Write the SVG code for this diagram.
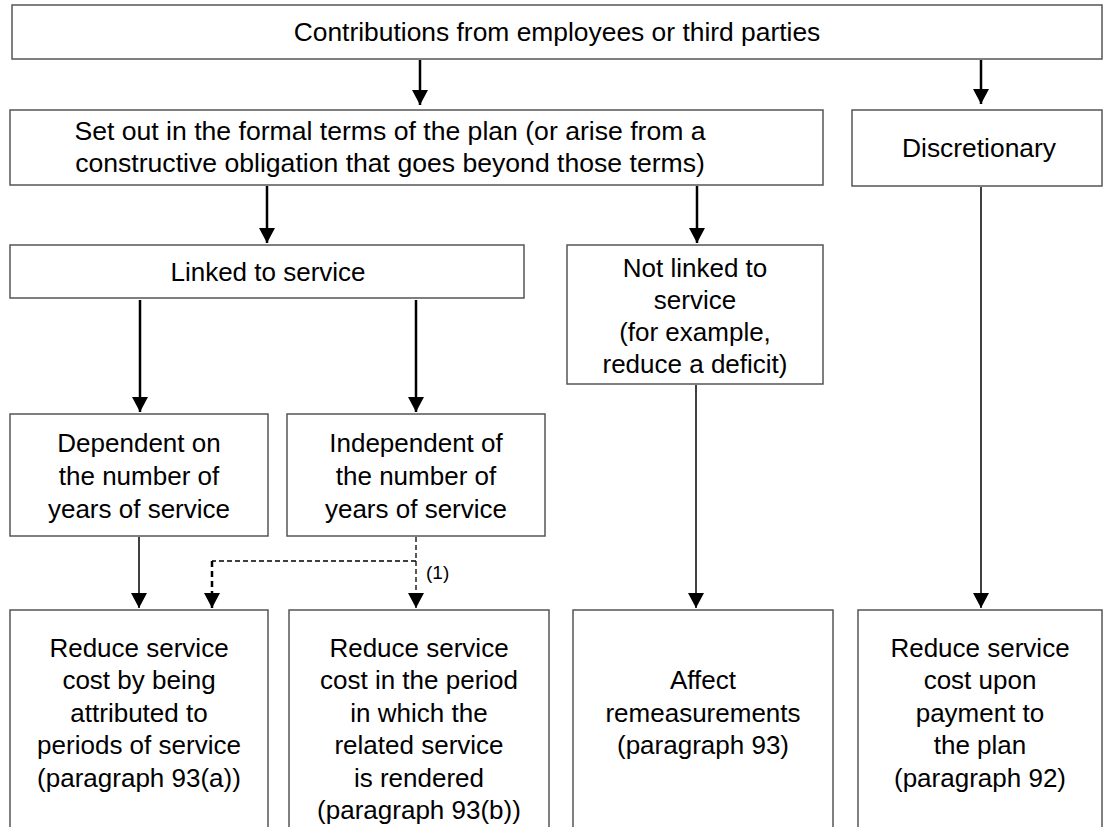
<svg xmlns="http://www.w3.org/2000/svg" width="1104" height="827" viewBox="0 0 1104 827">
<style>
.box{fill:#fff;stroke:#555;stroke-width:1.5}
.t{font-family:"Liberation Sans",Arial,sans-serif;font-size:26px;fill:#000;text-anchor:middle}
.s{font-family:"Liberation Sans",Arial,sans-serif;font-size:19px;fill:#000}
.a{stroke:#000;stroke-width:2.5;fill:none;marker-end:url(#ah)}
.al{stroke:#000;stroke-width:1.5;fill:none;marker-end:url(#ah)}
.d{stroke:#000;stroke-width:1.3;fill:none;stroke-dasharray:5 3}
.dt{stroke:#000;stroke-width:2.5;fill:none;stroke-dasharray:6 4}
</style>
<defs>
<marker id="ah" markerUnits="userSpaceOnUse" markerWidth="16" markerHeight="16" refX="15" refY="8" orient="auto" viewBox="0 0 16 16">
<path d="M0,0 L15,8 L0,16 z" fill="#000"/>
</marker>
</defs>
<rect width="1104" height="827" fill="#fff"/>
<g id="n-contrib"><rect class="box" x="12" y="5" width="1090" height="54"/><text class="t" x="557" y="41" style="font-size:26.4px">Contributions from employees or third parties</text></g>
<g id="n-setout"><rect class="box" x="10" y="110" width="813" height="75"/><text class="t" x="390" y="140" style="font-size:26.6px">Set out in the formal terms of the plan (or arise from a</text><text class="t" x="390" y="172" style="font-size:26.6px">constructive obligation that goes beyond those terms)</text></g>
<g id="n-disc"><rect class="box" x="852" y="110" width="250" height="76"/><text class="t" x="979" y="157" style="font-size:26.4px">Discretionary</text></g>
<g id="n-linked"><rect class="box" x="10" y="245" width="514" height="53"/><text class="t" x="268" y="281">Linked to service</text></g>
<g id="n-notlinked"><rect class="box" x="567" y="245" width="256" height="139"/><text class="t" x="695" y="277">Not linked to</text><text class="t" x="695" y="309">service</text><text class="t" x="695" y="341">(for example,</text><text class="t" x="695" y="373">reduce a deficit)</text></g>
<g id="n-dep"><rect class="box" x="10" y="414" width="258" height="122"/><text class="t" x="139" y="452">Dependent on</text><text class="t" x="139" y="485">the number of</text><text class="t" x="139" y="518">years of service</text></g>
<g id="n-indep"><rect class="box" x="287" y="414" width="258" height="122"/><text class="t" x="416" y="452">Independent of</text><text class="t" x="416" y="485">the number of</text><text class="t" x="416" y="518">years of service</text></g>
<g id="n-r93a"><rect class="box" x="10" y="610" width="258" height="240"/><text class="t" x="139" y="657">Reduce service</text><text class="t" x="139" y="689">cost by being</text><text class="t" x="139" y="722">attributed to</text><text class="t" x="139" y="754">periods of service</text><text class="t" x="139" y="787">(paragraph 93(a))</text></g>
<g id="n-r93b"><rect class="box" x="289" y="610" width="260" height="240"/><text class="t" x="419" y="657">Reduce service</text><text class="t" x="419" y="689">cost in the period</text><text class="t" x="419" y="722">in which the</text><text class="t" x="419" y="754">related service</text><text class="t" x="419" y="787">is rendered</text><text class="t" x="419" y="819">(paragraph 93(b))</text></g>
<g id="n-r93"><rect class="box" x="573" y="610" width="260" height="240"/><text class="t" x="703" y="689">Affect</text><text class="t" x="703" y="722">remeasurements</text><text class="t" x="703" y="754">(paragraph 93)</text></g>
<g id="n-r92"><rect class="box" x="858" y="610" width="244" height="240"/><text class="t" x="980" y="657">Reduce service</text><text class="t" x="980" y="689">cost upon</text><text class="t" x="980" y="722">payment to</text><text class="t" x="980" y="754">the plan</text><text class="t" x="980" y="787">(paragraph 92)</text></g>
<g id="connectors">
<line class="a" x1="420" y1="60" x2="420" y2="105"/>
<line class="a" x1="981" y1="60" x2="981" y2="104"/>
<line class="a" x1="267" y1="186" x2="267" y2="243"/>
<line class="a" x1="697" y1="186" x2="697" y2="243"/>
<line class="a" x1="140" y1="300" x2="140" y2="412"/>
<line class="a" x1="416" y1="300" x2="416" y2="412"/>
<line class="al" x1="139" y1="537" x2="139" y2="608"/>
<line class="al" x1="696" y1="385" x2="696" y2="608"/>
<line class="al" x1="981" y1="187" x2="981" y2="608"/>
<line class="d" x1="416" y1="537" x2="416" y2="594"/>
<path d="M416,596 L416,608" stroke="#000" stroke-width="1.3" marker-end="url(#ah)"/>
<path class="d" d="M416,561 L212,561"/>
<path class="dt" d="M212,561 L212,594"/>
<path d="M212,596 L212,608" stroke="#000" stroke-width="2.5" marker-end="url(#ah)"/>
<text class="s" x="426" y="579">(1)</text>
</g>
</svg>
